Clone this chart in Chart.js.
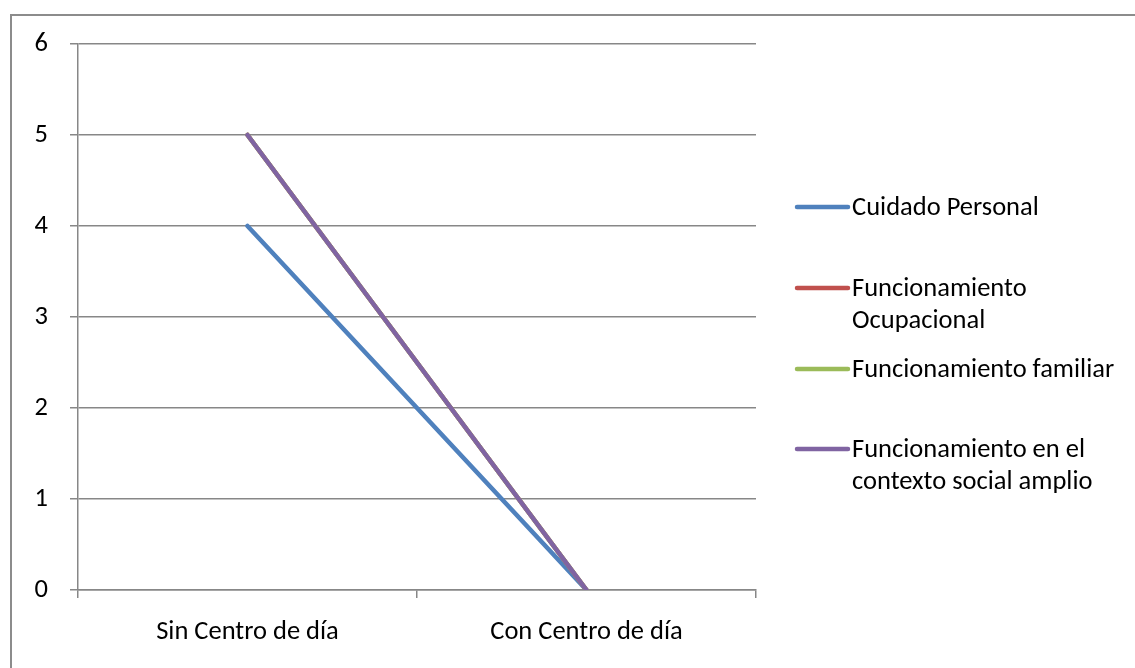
<!DOCTYPE html>
<html>
<head>
<meta charset="utf-8">
<script src="https://cdn.jsdelivr.net/npm/chart.js@4/dist/chart.umd.min.js"></script>
<style>
  html, body { margin: 0; padding: 0; background: #fff; }
  #wrap { position: relative; width: 1135px; height: 668px; overflow: hidden; }
  #frame { position: absolute; left: 10px; top: 14px; right: -4px; bottom: -4px;
           border-top: 2px solid #8c8c8c; border-left: 2px solid #8c8c8c; }
  canvas { position: absolute; left: 0; top: 0; }
</style>
</head>
<body>
<div id="wrap">
  <div id="frame"></div>
  <canvas id="c" width="1135" height="668"></canvas>
</div>
<script>
const categories = ['Sin Centro de día', 'Con Centro de día'];
const seriesNames = [
  ['Cuidado Personal'],
  ['Funcionamiento', 'Ocupacional'],
  ['Funcionamiento familiar'],
  ['Funcionamiento en el', 'contexto social amplio']
];
const cuidadoPersonal = [4, 0];
const funcOcupacional = [5, 0];
const funcFamiliar = [5, 0];
const funcContextoSocial = [5, 0];
const yTicks = [0, 1, 2, 3, 4, 5, 6];

const colors = ['#4F81BD', '#C0504D', '#9BBB59', '#8064A2'];
const FONT = 'Carlito, Lato, sans-serif';
const FONT_SIZE = 26.5;

// Legend drawn at the right, one row per series with wrapped names
const sideLegend = {
  id: 'sideLegend',
  afterDraw(chart) {
    const ctx = chart.ctx;
    const rows = [207, 288, 369, 449];
    ctx.save();
    chart.data.datasets.forEach((ds, i) => {
      const y = rows[i];
      ctx.strokeStyle = ds.borderColor;
      ctx.lineWidth = 4.5;
      ctx.lineCap = 'round';
      ctx.beginPath();
      ctx.moveTo(797, y);
      ctx.lineTo(848, y);
      ctx.stroke();
      ctx.fillStyle = '#000';
      ctx.font = FONT_SIZE + 'px ' + FONT;
      ctx.textBaseline = 'middle';
      ctx.textAlign = 'left';
      ds.labelLines.forEach((t, k) => ctx.fillText(t, 852, y + 1 + k * 32));
    });
    ctx.restore();
  }
};

const series = [cuidadoPersonal, funcOcupacional, funcFamiliar, funcContextoSocial];

new Chart(document.getElementById('c'), {
  type: 'line',
  data: {
    labels: categories,
    datasets: series.map((vals, i) => ({
      label: seriesNames[i].join(' '),
      labelLines: seriesNames[i],
      data: vals,
      borderColor: colors[i],
      backgroundColor: colors[i],
      borderWidth: 4.5,
      borderCapStyle: 'round',
      pointRadius: 0,
      tension: 0,
      order: 4 - i
    }))
  },
  options: {
    responsive: false,
    animation: false,
    events: [],
    layout: { padding: { top: 44, right: 379, left: 0, bottom: 0 } },
    plugins: { legend: { display: false }, tooltip: { enabled: false } },
    scales: {
      x: {
        offset: true,
        afterFit(s) { s.height = 78; },
        grid: { offset: true, drawOnChartArea: false, drawTicks: true, tickLength: 8, color: '#878787', lineWidth: 1.5 },
        border: { color: '#878787', width: 1.5 },
        ticks: { color: '#000', font: { family: FONT, size: FONT_SIZE }, padding: 18 }
      },
      y: {
        min: 0, max: 6,
        afterFit(s) { s.width = 78; },
        afterBuildTicks(s) { s.ticks = yTicks.map(v => ({ value: v })); },
        grid: { color: '#878787', lineWidth: 1.5, tickLength: 8 },
        border: { color: '#878787', width: 1.5 },
        ticks: { color: '#000', font: { family: FONT, size: FONT_SIZE }, padding: 22 }
      }
    }
  },
  plugins: [sideLegend]
});
</script>
</body>
</html>
